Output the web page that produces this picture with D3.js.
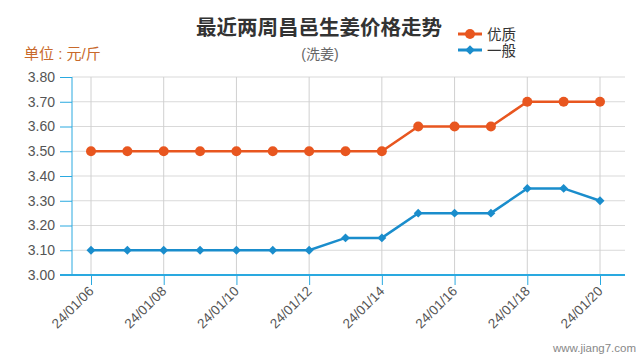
<!DOCTYPE html>
<html><head><meta charset="utf-8">
<script src="https://cdn.jsdelivr.net/npm/d3@7"></script>
<style>body{margin:0;background:#fff}svg{display:block;font-family:Arial,"Liberation Sans","Noto Sans CJK SC",sans-serif}</style>
</head><body>
<svg id="c" width="640" height="360"></svg>
<script>
const dates = ["24/01/06","24/01/07","24/01/08","24/01/09","24/01/10","24/01/11","24/01/12","24/01/13","24/01/14","24/01/15","24/01/16","24/01/17","24/01/18","24/01/19","24/01/20"];
const premium = [3.50,3.50,3.50,3.50,3.50,3.50,3.50,3.50,3.50,3.60,3.60,3.60,3.70,3.70,3.70];
const normal = [3.10,3.10,3.10,3.10,3.10,3.10,3.10,3.15,3.15,3.25,3.25,3.25,3.35,3.35,3.30];
const yTicks = [3.00,3.10,3.20,3.30,3.40,3.50,3.60,3.70,3.80];
const xTickLabels = ["24/01/06","24/01/08","24/01/10","24/01/12","24/01/14","24/01/16","24/01/18","24/01/20"];

const svg = d3.select("#c");
const L = 72, R = 625, T = 77, B = 275;
const x = d3.scalePoint().domain(dates).range([91, 600]);
const y = d3.scaleLinear().domain([3.0, 3.8]).range([B, T]);
const axisColor = "#2aa9e0";
const cjk = "Arial,'Noto Sans CJK SC',sans-serif";

// horizontal grid
svg.append("g").selectAll("line").data(yTicks.slice(1)).join("line")
  .attr("x1", L).attr("x2", R).attr("y1", d => y(d)).attr("y2", d => y(d))
  .attr("stroke", "#d9d9d9").attr("stroke-width", 1);
// vertical grid
svg.append("g").selectAll("line").data(xTickLabels).join("line")
  .attr("x1", d => x(d)).attr("x2", d => x(d)).attr("y1", T).attr("y2", B)
  .attr("stroke", "#d0d0d0").attr("stroke-width", 1);

// y axis
const ya = svg.append("g").attr("transform", `translate(${L},0)`)
  .call(d3.axisLeft(y).tickValues(yTicks).tickFormat(d3.format(".2f")).tickSize(12).tickPadding(5));
ya.select(".domain").attr("stroke", axisColor).attr("d", `M0,${T}V${B}`);
ya.selectAll(".tick line").attr("stroke", axisColor);
ya.selectAll("text").attr("fill", "#555").style("font-size", "14px");

// x axis
const xa = svg.append("g").attr("transform", `translate(0,${B})`)
  .call(d3.axisBottom(x).tickValues(xTickLabels).tickSize(10));
xa.select(".domain").attr("stroke", axisColor).attr("stroke-width", 2).attr("d", `M60,0H${R}`);
xa.selectAll(".tick line").attr("stroke", axisColor);
xa.selectAll("text").attr("fill", "#555").style("font-size", "13.5px")
  .attr("text-anchor", "end").attr("x", 0).attr("y", 0).attr("dy", "0")
  .attr("transform", "translate(3,17) rotate(-45)");

const line = d3.line().x((d, i) => x(dates[i])).y(d => y(d));
const orange = "#e8561f", blue = "#1a8dcc";

svg.append("path").datum(premium).attr("d", line).attr("fill", "none").attr("stroke", orange).attr("stroke-width", 2.5);
svg.append("g").selectAll("circle").data(premium).join("circle")
  .attr("cx", (d, i) => x(dates[i])).attr("cy", d => y(d)).attr("r", 5).attr("fill", orange);

svg.append("path").datum(normal).attr("d", line).attr("fill", "none").attr("stroke", blue).attr("stroke-width", 2.5);
svg.append("g").selectAll("path").data(normal).join("path")
  .attr("d", d3.symbol().type(d3.symbolSquare).size(40))
  .attr("transform", (d, i) => `translate(${x(dates[i])},${y(d)}) rotate(45)`).attr("fill", blue);

// titles
svg.append("text").attr("x", 319).attr("y", 35).attr("text-anchor", "middle")
  .style("font-size", "20.5px").style("font-weight", "bold").attr("fill", "#333")
  .style("font-family", cjk).text("最近两周昌邑生姜价格走势");
svg.append("text").attr("x", 320).attr("y", 59).attr("text-anchor", "middle")
  .style("font-size", "14px").attr("fill", "#666")
  .style("font-family", cjk).text("(洗姜)");
svg.append("text").attr("x", 24).attr("y", 59)
  .style("font-size", "15px").attr("fill", "#c8692b")
  .style("font-family", cjk).text("单位 : 元/斤");

// legend
const lg = svg.append("g");
lg.append("line").attr("x1", 458).attr("x2", 482).attr("y1", 34).attr("y2", 34).attr("stroke", orange).attr("stroke-width", 3);
lg.append("circle").attr("cx", 470).attr("cy", 34).attr("r", 5).attr("fill", orange);
lg.append("text").attr("x", 487).attr("y", 40).style("font-size", "14.5px").attr("fill", "#333")
  .style("font-family", cjk).text("优质");
lg.append("line").attr("x1", 458).attr("x2", 482).attr("y1", 50).attr("y2", 50).attr("stroke", blue).attr("stroke-width", 3);
lg.append("path").attr("d", d3.symbol().type(d3.symbolSquare).size(45)).attr("transform", "translate(470,50) rotate(45)").attr("fill", blue);
lg.append("text").attr("x", 487).attr("y", 56).style("font-size", "14.5px").attr("fill", "#333")
  .style("font-family", cjk).text("一般");

svg.append("text").attr("x", 636).attr("y", 352).attr("text-anchor", "end")
  .style("font-size", "11.5px").attr("fill", "#888").text("www.jiang7.com");
</script>
</body></html>
